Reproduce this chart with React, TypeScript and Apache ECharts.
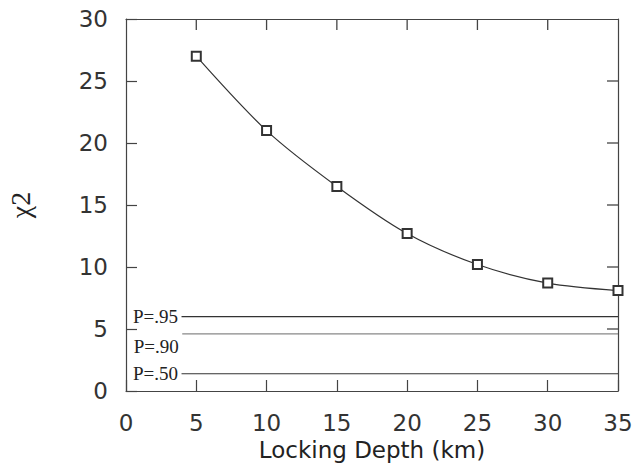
import React, { useEffect, useRef } from "react";
import * as echarts from "echarts";

const depths = [5, 10, 15, 20, 25, 30, 35];
const chiSquare = [27.0, 21.0, 16.5, 12.7, 10.2, 8.7, 8.1];
const levelNames = ["P=.95", "P=.90", "P=.50"];
const levelValues = [5.99, 4.61, 1.39];
const levelStart = [3.95, 4.0, 3.95];
const xMin = 0;
const xMax = 35;
const yMin = 0;
const yMax = 30;
const topTicks = [5, 10, 15, 20, 25, 30];
const rightTicks = [5, 10, 15, 20, 25];

export default function App() {
  const ref = useRef<HTMLDivElement>(null);
  useEffect(() => {
    const chart = echarts.init(ref.current!, null, { renderer: "svg" });
    const axisColor = "#444";
    const tickFont = () => ({ fontFamily: "DejaVu Sans", fontSize: 23, color: "#333" });
    const levelColors = ["#333", "#888", "#333"];
    const levelSeries = levelNames.map((name, i) => ({
      type: "line",
      name,
      data: [
        {
          value: [levelStart[i], levelValues[i]],
          label: {
            show: true,
            formatter: name,
            position: "left",
            distance: 3,
            offset: i === 1 ? [0, 13] : [0, 0],
            fontFamily: "Liberation Serif",
            fontSize: 19,
            color: "#222",
          },
        },
        { value: [xMax, levelValues[i]], symbol: "none" },
      ],
      symbol: "circle",
      symbolSize: 1,
      showAllSymbol: true,
      itemStyle: { color: "rgba(0,0,0,0)" },
      lineStyle: { color: levelColors[i], width: 1.2 },
      silent: true,
    }));
    const axisLineOpt = () => ({ show: true, onZero: false, lineStyle: { color: axisColor, width: 1.2 } });
    const tickOpt = () => ({ show: true, inside: true, length: 11, lineStyle: { color: axisColor, width: 1.2 } });
    const tickLen = 11;
    const tickRender = (dx: number, dy: number) => (params: any, api: any) => {
      const p = api.coord([api.value(0), api.value(1)]);
      return {
        type: "polyline",
        shape: { points: [[p[0], p[1]], [p[0] + dx, p[1] + dy]] },
        style: { stroke: "#444", lineWidth: 1.3, fill: null },
      };
    };
    chart.setOption({
      animation: false,
      grid: { left: 126, right: 16, top: 19, bottom: 74, containLabel: false, outerBoundsMode: "none" },
      xAxis: [
        {
          type: "value",
          min: xMin,
          max: xMax,
          interval: 5,
          position: "bottom",
          name: "Locking Depth (km)",
          nameLocation: "middle",
          nameGap: 46,
          nameTextStyle: { fontFamily: "DejaVu Sans", fontSize: 23, color: "#222" },
          axisLine: axisLineOpt(),
          axisTick: tickOpt(),
          axisLabel: { ...tickFont(), margin: 20, hideOverlap: false },
          splitLine: { show: false },
        },
        {
          type: "value",
          min: xMin,
          max: xMax,
          interval: 5,
          position: "top",
          axisLine: axisLineOpt(),
          axisTick: { show: false },
          axisLabel: { show: false },
          splitLine: { show: false },
        },
      ],
      yAxis: [
        {
          type: "value",
          min: yMin,
          max: yMax,
          interval: 5,
          position: "left",
          name: "χ2",
          nameLocation: "middle",
          nameRotate: 90,
          nameGap: 92,
          nameTextStyle: { fontFamily: "Liberation Serif", fontSize: 28, color: "#222" },
          axisLine: axisLineOpt(),
          axisTick: tickOpt(),
          axisLabel: { ...tickFont(), margin: 18 },
          splitLine: { show: false },
        },
        {
          type: "value",
          min: yMin,
          max: yMax,
          interval: 5,
          position: "right",
          axisLine: axisLineOpt(),
          axisTick: { show: false },
          axisLabel: { show: false },
          splitLine: { show: false },
        },
      ],
      series: [
        {
          type: "line",
          name: "chi2",
          data: depths.map((d, i) => [d, chiSquare[i]]),
          smooth: 0.3,
          symbol: "emptyRect",
          symbolSize: 9,
          lineStyle: { color: "#333", width: 1.2 },
          itemStyle: { color: "#333", borderColor: "#333", borderWidth: 1 },
          z: 5,
        },
        ...levelSeries,
        {
          type: "custom",
          name: "topTicks",
          coordinateSystem: "cartesian2d",
          xAxisIndex: 0,
          yAxisIndex: 0,
          silent: true,
          clip: false,
          z: 10,
          encode: { x: 0, y: 1 },
          data: topTicks.map((v) => [v, yMax]),
          renderItem: tickRender(0, tickLen),
        },
        {
          type: "custom",
          name: "rightTicks",
          coordinateSystem: "cartesian2d",
          xAxisIndex: 0,
          yAxisIndex: 0,
          silent: true,
          clip: false,
          z: 10,
          encode: { x: 0, y: 1 },
          data: rightTicks.map((v) => [xMax, v]),
          renderItem: tickRender(-tickLen, 0),
        },
      ],
    });
    return () => chart.dispose();
  }, []);
  return (
    <div
      ref={ref}
      style={{ position: "fixed", left: 0, top: 0, width: 634, height: 465, background: "#fff" }}
    />
  );
}
